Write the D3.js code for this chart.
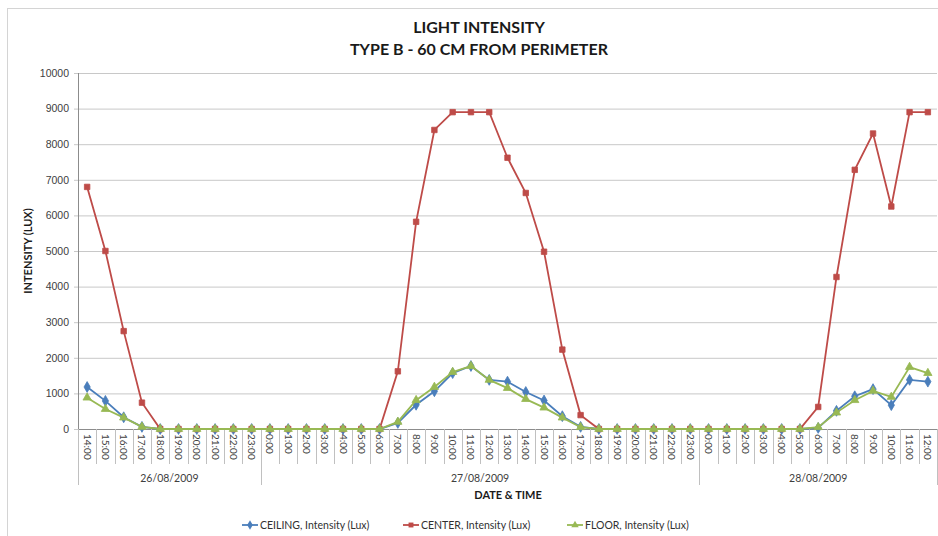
<!DOCTYPE html>
<html lang="en">
<head>
  <meta charset="UTF-8">
  <title>Light intensity</title>
  <style>
    body { margin: 0; background: #fff; }
    svg { font-family: 'Lato', 'Open Sans', sans-serif; }
    .title { font-size: 16px; font-weight: 700; fill: #1a1a1a; }
    .axisTitle { font-size: 11px; font-weight: 700; fill: #1a1a1a; }
    .yaxis text { font-size: 10.5px; fill: #404040; }
    .yaxis path { display: none; }
    .yaxis line { stroke: #c8c8c8; }
    .tickLabel { font-size: 10px; fill: #404040; }
    .dayLabel { font-size: 10.5px; fill: #404040; }
    .legend text { font-size: 10.5px; fill: #303030; }
  </style>
  <script src="https://cdn.jsdelivr.net/npm/d3@7"></script>
</head>
<body>
<div class="container"></div>
<script>
  // categories (hourly readings over three days)
  var days = ["26/08/2009", "27/08/2009", "28/08/2009"];
  var times = [
    "14:00","15:00","16:00","17:00","18:00","19:00","20:00","21:00","22:00","23:00",
    "0:00","1:00","2:00","3:00","4:00","5:00","6:00","7:00","8:00","9:00","10:00","11:00",
    "12:00","13:00","14:00","15:00","16:00","17:00","18:00","19:00","20:00","21:00","22:00","23:00",
    "0:00","1:00","2:00","3:00","4:00","5:00","6:00","7:00","8:00","9:00","10:00","11:00","12:00"
  ];
  var ceiling = [1180,790,330,60,0,0,0,0,0,0,
    0,0,0,0,0,0,0,170,680,1060,1570,1770,1380,1330,1040,800,360,60,0,0,0,0,0,0,
    0,0,0,0,0,0,30,510,920,1120,670,1380,1330];
  var center = [6800,5000,2750,740,0,0,0,0,0,0,
    0,0,0,0,0,0,0,1620,5820,8400,8900,8900,8900,7620,6630,4980,2230,390,0,0,0,0,0,0,
    0,0,0,0,0,0,620,4270,7280,8300,6250,8900,8900];
  var floor = [880,560,320,60,0,0,0,0,0,0,
    0,0,0,0,0,0,0,200,810,1180,1600,1770,1380,1150,840,600,320,50,0,0,0,0,0,0,
    0,0,0,0,0,0,50,460,810,1070,900,1740,1570];
  var yTicks = [0,1000,2000,3000,4000,5000,6000,7000,8000,9000,10000];

  var series = [
    {name: "CEILING, Intensity (Lux)", values: ceiling, color: "#4a7ebb", symbol: d3.symbolDiamond, size: 34},
    {name: "CENTER, Intensity (Lux)", values: center, color: "#be4b48", symbol: d3.symbolSquare, size: 30},
    {name: "FLOOR, Intensity (Lux)", values: floor, color: "#98b954", symbol: d3.symbolTriangle, size: 30}
  ];

  var svgWidth = 938, svgHeight = 536;
  var margin = {top: 73, left: 78, right: 1, bottom: 107};
  var width = svgWidth - margin.left - margin.right;
  var height = svgHeight - margin.top - margin.bottom;

  var svg = d3.select('.container').append('svg')
    .attr('width', svgWidth).attr('height', svgHeight);

  // chart frame
  svg.append('rect').attr('x', 7.5).attr('y', 8.5)
    .attr('width', svgWidth).attr('height', svgHeight)
    .attr('fill', 'none').attr('stroke', '#d4d4d4');

  var x = d3.scaleBand().domain(d3.range(times.length)).range([margin.left, margin.left + width]);
  var y = d3.scaleLinear().domain([0, 10000]).range([margin.top + height, margin.top]);

  // gridlines + y labels
  svg.append('g').attr('class', 'yaxis')
    .attr('transform', `translate(${margin.left},0)`)
    .call(d3.axisLeft(y).tickValues(yTicks).tickFormat(d3.format('d'))
      .tickSizeInner(-width).tickSizeOuter(0).tickPadding(9))
    .selectAll('line').attr('x1', -4);

  // axis lines
  svg.append('line').attr('x1', margin.left + 0.5).attr('x2', margin.left + 0.5)
    .attr('y1', y(10000)).attr('y2', y(0)).attr('stroke', '#8c8c8c');
  svg.append('line').attr('x1', margin.left).attr('x2', margin.left + width)
    .attr('y1', y(0) + 0.5).attr('y2', y(0) + 0.5).attr('stroke', '#8c8c8c');

  // category separators; longer ones at day boundaries
  var base = y(0);
  var dayStarts = [0];
  times.forEach(function(t, i) { if (i > 0 && t === "0:00") dayStarts.push(i); });
  var sep = svg.append('g').attr('stroke', '#c0c0c0');
  d3.range(times.length + 1).forEach(function(i) {
    var xx = i < times.length ? x(i) : margin.left + width;
    var isDay = dayStarts.indexOf(i) >= 0 || i === times.length;
    sep.append('line').attr('x1', Math.round(xx) + 0.5).attr('x2', Math.round(xx) + 0.5)
      .attr('y1', base).attr('y2', isDay ? base + 56 : base + 35);
  });

  // hour labels, rotated
  svg.append('g').selectAll('text').data(times).enter().append('text')
    .attr('class', 'tickLabel')
    .attr('transform', function(d, i) {
      return `translate(${x(i) + x.bandwidth() / 2 - 3.5},${base + 5}) rotate(90)`;
    })
    .text(function(d) { return d; });

  // day labels
  svg.append('g').selectAll('text').data(days).enter().append('text')
    .attr('class', 'dayLabel')
    .attr('x', function(d, i) {
      var s = dayStarts[i], e = i + 1 < dayStarts.length ? dayStarts[i + 1] : times.length;
      return (x(s) + x(e - 1) + x.bandwidth()) / 2;
    })
    .attr('y', base + 53)
    .attr('text-anchor', 'middle')
    .text(function(d) { return d; });

  // lines + markers
  var line = d3.line()
    .x(function(d, i) { return x(i) + x.bandwidth() / 2; })
    .y(function(d) { return y(d); });

  series.forEach(function(s) {
    svg.append('path').datum(s.values)
      .attr('d', line).attr('fill', 'none')
      .attr('stroke', s.color).attr('stroke-width', 1.8);
    svg.append('g').selectAll('path').data(s.values).enter().append('path')
      .attr('d', d3.symbol().type(s.symbol).size(s.size))
      .attr('transform', function(d, i) { return `translate(${x(i) + x.bandwidth() / 2},${y(d)})`; })
      .attr('fill', s.color).attr('stroke', s.color).attr('stroke-width', 0.8);
  });

  // titles
  svg.append('text').attr('class', 'title').attr('x', 479).attr('y', 33)
    .attr('text-anchor', 'middle').text('LIGHT INTENSITY');
  svg.append('text').attr('class', 'title').attr('x', 479).attr('y', 55)
    .attr('text-anchor', 'middle').text('TYPE B - 60 CM FROM PERIMETER');
  svg.append('text').attr('class', 'axisTitle').attr('x', 508).attr('y', 499)
    .attr('text-anchor', 'middle').text('DATE & TIME');
  svg.append('text').attr('class', 'axisTitle')
    .attr('transform', `translate(32,${(y(0) + y(10000)) / 2}) rotate(-90)`)
    .attr('text-anchor', 'middle').text('INTENSITY (LUX)');

  // legend
  var legendX = [242, 403, 567];
  var legend = svg.append('g').attr('class', 'legend');
  series.forEach(function(s, i) {
    var g = legend.append('g').attr('transform', `translate(${legendX[i]},525)`);
    g.append('line').attr('x1', 0).attr('x2', 16).attr('stroke', s.color).attr('stroke-width', 1.8);
    g.append('path').attr('d', d3.symbol().type(s.symbol).size(s.size * 0.8))
      .attr('transform', 'translate(8,0)').attr('fill', s.color);
    g.append('text').attr('x', 18).attr('y', 4).text(s.name);
  });
</script>
</body>
</html>
